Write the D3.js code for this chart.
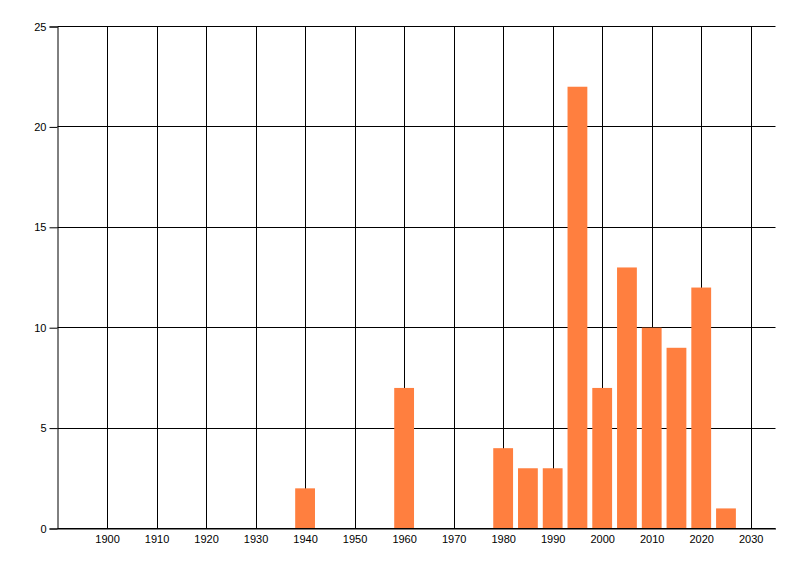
<!DOCTYPE html>
<html>
<head>
<meta charset="utf-8">
<script src="https://cdn.jsdelivr.net/npm/d3@7"></script>
<style>
  body { margin: 0; background: #fff; }
  text { font-family: "Liberation Sans", Arial, sans-serif; font-size: 11px; fill: #000; }
</style>
</head>
<body>
<svg id="chart" width="800" height="576"></svg>
<script>
// bar positions (year) and counts
var years = [1940, 1960, 1980, 1985, 1990, 1995, 2000, 2005, 2010, 2015, 2020, 2025];
var counts = [2, 7, 4, 3, 3, 22, 7, 13, 10, 9, 12, 1];
var xTicks = [1900, 1910, 1920, 1930, 1940, 1950, 1960, 1970, 1980, 1990, 2000, 2010, 2020, 2030];
var yTicks = [0, 5, 10, 15, 20, 25];

var plotLeft = 57.5, plotRight = 775.5, plotTop = 26.5, plotBottom = 528.5;
var svg = d3.select("#chart");

var x = d3.scaleLinear().domain([1890, 2035]).range([plotLeft, plotRight]);
var y = d3.scaleLinear().domain([0, 25]).range([plotBottom, plotTop]);

// vertical grid
svg.append("g").selectAll("line")
    .data(xTicks)
    .join("line")
    .attr("x1", d => Math.round(x(d)) + 0.5)
    .attr("x2", d => Math.round(x(d)) + 0.5)
    .attr("y1", plotTop).attr("y2", plotBottom)
    .attr("stroke", "#000");

// horizontal grid
svg.append("g").selectAll("line")
    .data(yTicks)
    .join("line")
    .attr("x1", plotLeft).attr("x2", plotRight)
    .attr("y1", d => Math.round(y(d) - 0.5) + 0.5)
    .attr("y2", d => Math.round(y(d) - 0.5) + 0.5)
    .attr("stroke", "#000");

// bars, 4 years wide
var bw = x(1894) - x(1890);
svg.append("g").selectAll("rect")
    .data(years)
    .join("rect")
    .attr("x", d => x(d) - bw / 2)
    .attr("width", bw)
    .attr("y", (d, i) => y(counts[i]))
    .attr("height", (d, i) => plotBottom - 0.5 - y(counts[i]))
    .attr("fill", "#ff7f3f");

// y axis
var yAxis = d3.axisLeft(y).tickValues(yTicks).tickSize(8).tickPadding(3);
svg.append("g")
    .attr("transform", "translate(" + plotLeft + ",0)")
    .call(yAxis)
    .call(g => g.select(".domain").attr("stroke", "#000"))
    .call(g => g.selectAll("text").style("font-family", "Liberation Sans, Arial, sans-serif").style("font-size", "11px"));

// x axis
var xAxis = d3.axisBottom(x).tickValues(xTicks).tickFormat(d3.format("d")).tickSize(0).tickPadding(7);
svg.append("g")
    .attr("transform", "translate(0," + plotBottom + ")")
    .call(xAxis)
    .call(g => g.select(".domain").attr("stroke", "#000"))
    .call(g => g.selectAll("text").style("font-family", "Liberation Sans, Arial, sans-serif").style("font-size", "11px"));
</script>
</body>
</html>
